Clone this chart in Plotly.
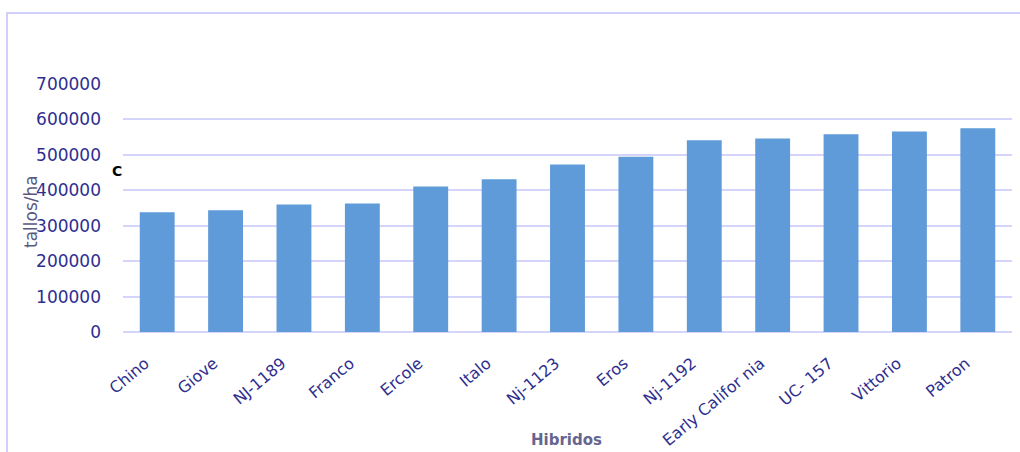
import plotly.graph_objects as go

hibridos = ["Chino", "Giove", "NJ-1189", "Franco", "Ercole", "Italo", "Nj-1123",
            "Eros", "Nj-1192", "Early Califor nia", "UC- 157", "Vittorio", "Patron"]
tallos_ha = [338000, 344000, 360000, 363000, 411000, 431000, 473000,
             495000, 541000, 546000, 558000, 566000, 575000]
y_ticks = [0, 100000, 200000, 300000, 400000, 500000, 600000, 700000]

W, H = 1020, 452
L, R, T, B = 123, 1012, 84, 332
pw, ph = R - L, B - T

def px(x):
    return (x - L) / pw

def py(y):
    return (B - y) / ph

fig = go.Figure(go.Bar(
    x=hibridos, y=tallos_ha,
    marker=dict(color="#5e9bd8", line=dict(width=0)),
    width=0.51,
))

tick_color = "#2e2e8f"
fig.update_layout(
    width=W, height=H,
    margin=dict(l=L, r=W - R, t=T, b=H - B),
    paper_bgcolor="white", plot_bgcolor="white",
    showlegend=False,
    font=dict(family="DejaVu Sans", color=tick_color),
    xaxis=dict(
        tickangle=-40, tickfont=dict(size=16, color=tick_color),
        showgrid=False, showline=False, ticks="", ticklen=0,
        ticklabelstandoff=18, ticklabelshift=-12, automargin=False,
    ),
    yaxis=dict(
        range=[0, 700000], tickvals=y_ticks, ticktext=[str(v) for v in y_ticks],
        tickfont=dict(size=17, color=tick_color),
        showgrid=True, gridcolor="#d5d5fb", gridwidth=2,
        zeroline=True, zerolinecolor="#d5d5fb", zerolinewidth=2,
        showline=False, ticks="", ticklabelstandoff=21, automargin=False,
    ),
    shapes=[dict(
        type="rect", xref="paper", yref="paper",
        x0=px(7), x1=px(1030), y0=py(470), y1=py(13),
        line=dict(color="#d0d0fa", width=2), fillcolor="rgba(0,0,0,0)",
        layer="below",
    )],
    annotations=[
        dict(text="tallos/ha", xref="paper", yref="paper", x=px(31), y=py(212),
             textangle=-90, showarrow=False, xanchor="center", yanchor="middle",
             font=dict(size=17, color="#5a5a80", family="DejaVu Sans")),
        dict(text="<b>C</b>", xref="paper", yref="paper", x=px(117), y=py(171),
             showarrow=False, xanchor="center", yanchor="middle",
             font=dict(size=14, color="black", family="DejaVu Sans")),
        dict(text="<b>Hibridos</b>", xref="paper", yref="paper", x=px(566), y=py(440),
             showarrow=False, xanchor="center", yanchor="middle",
             font=dict(size=15, color="#65658f", family="DejaVu Sans")),
    ],
)

fig.write_html("out.html")
